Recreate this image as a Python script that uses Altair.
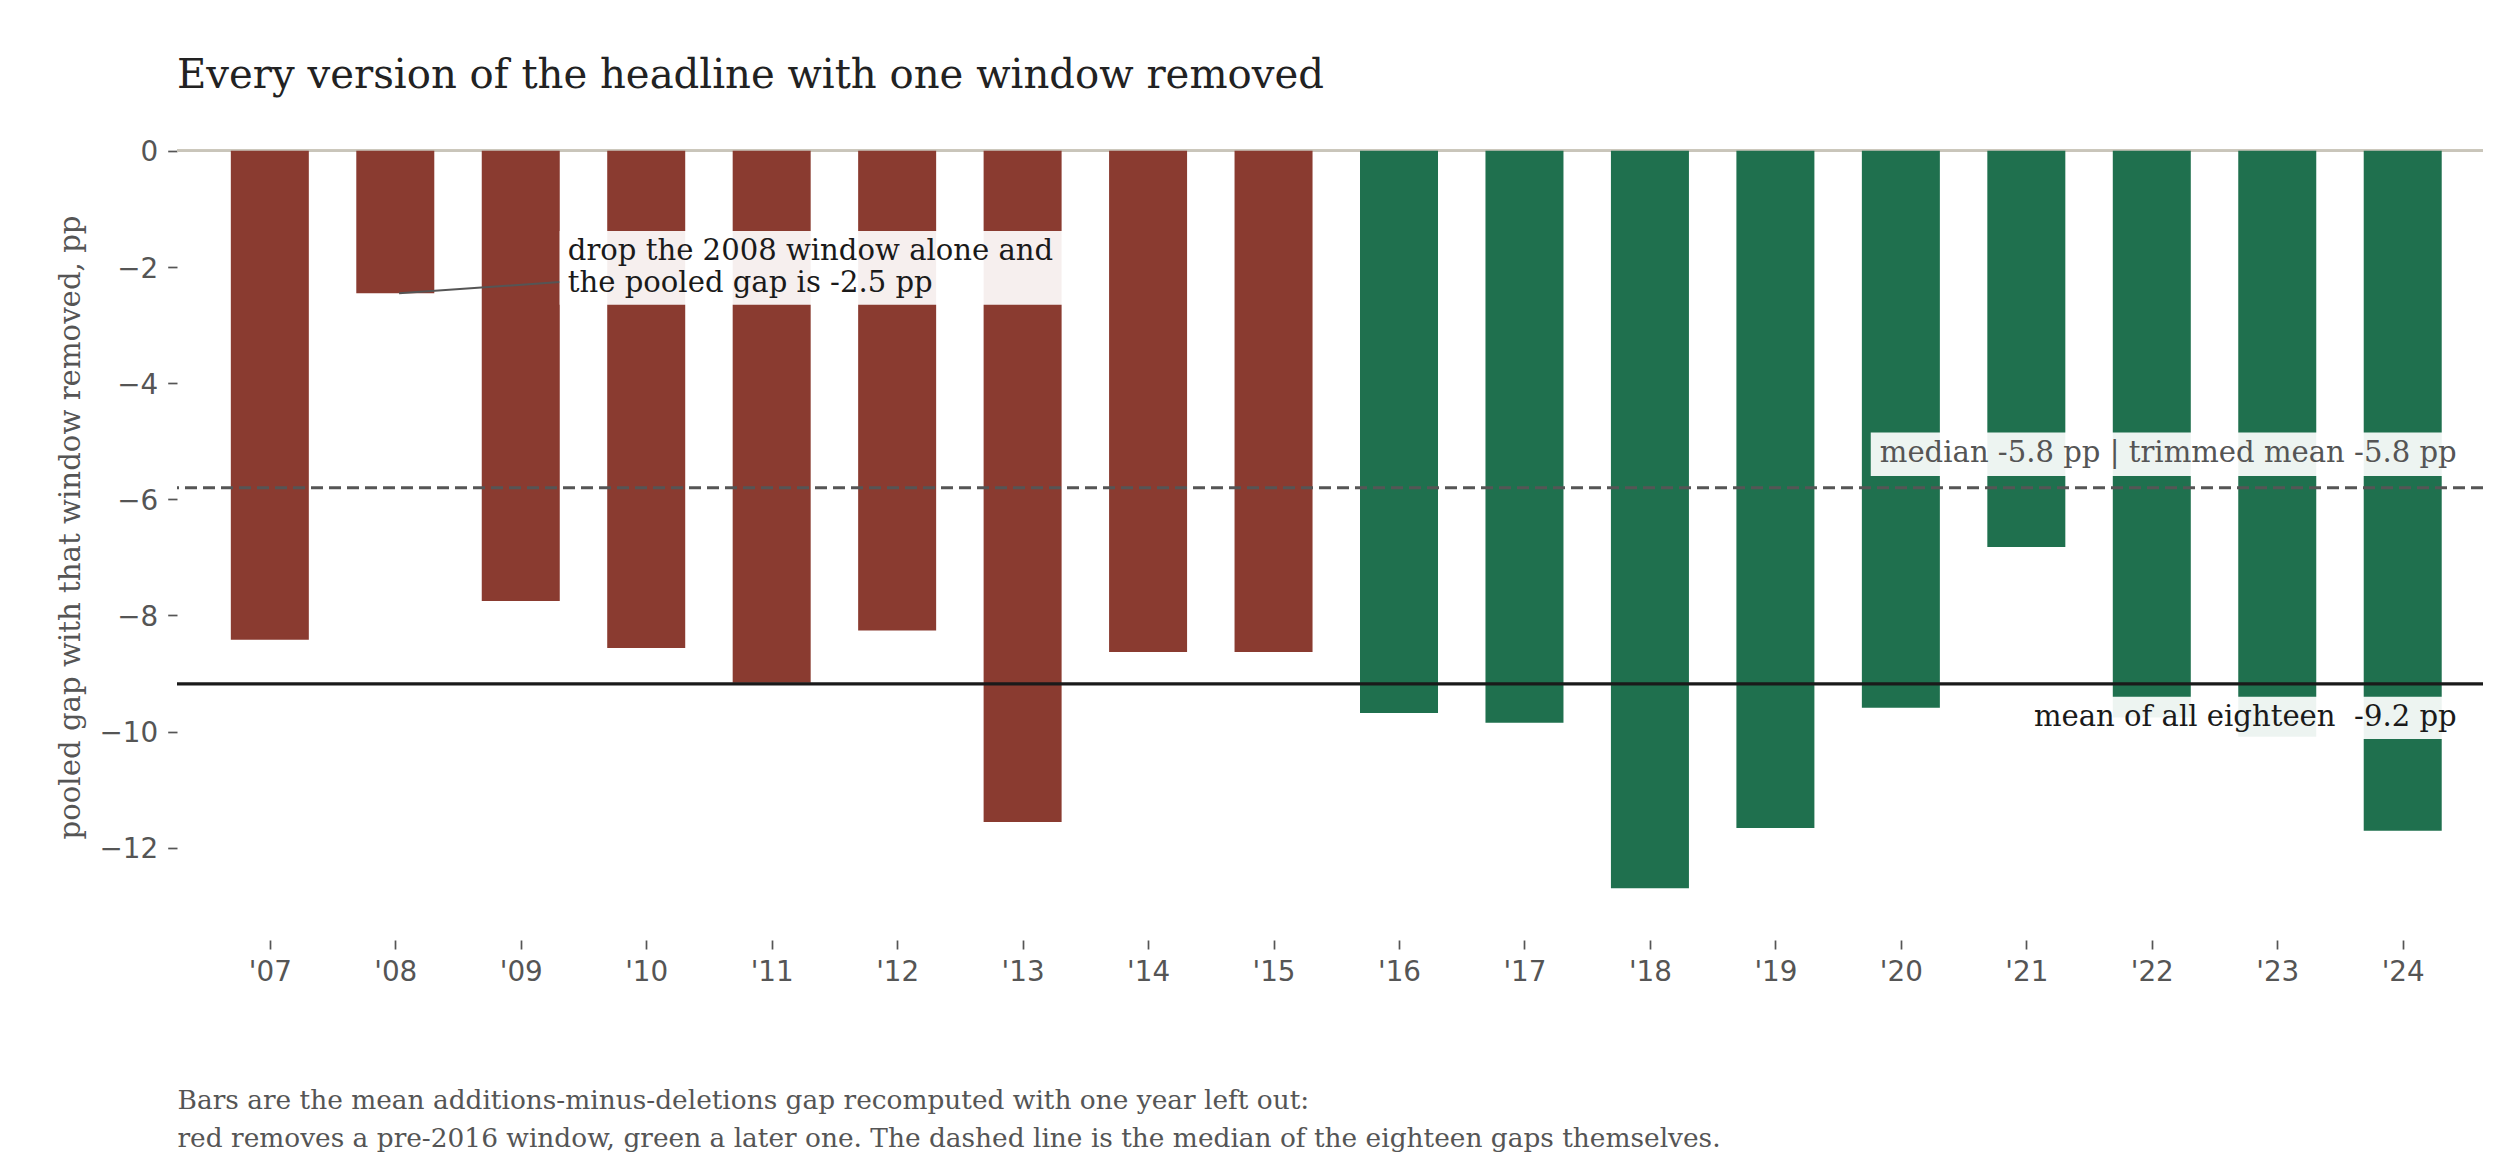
import json
import altair as alt
import pandas as pd

# ---- data -------------------------------------------------------------
years = ["'07", "'08", "'09", "'10", "'11", "'12", "'13", "'14", "'15",
         "'16", "'17", "'18", "'19", "'20", "'21", "'22", "'23", "'24"]
loo_gap = [-8.42, -2.45, -7.75, -8.56, -9.16, -8.26, -11.56, -8.63, -8.63,
           -9.68, -9.85, -12.70, -11.66, -9.59, -6.82, -9.76, -10.09, -11.71]
period = ["pre", "pre", "pre", "pre", "pre", "pre", "pre", "pre", "pre",
          "post", "post", "post", "post", "post", "post", "post", "post", "post"]
median_gap = -5.8
mean_gap = -9.18

title_text = "Every version of the headline with one window removed"
y_title = "pooled gap with that window removed, pp"
caption = ["Bars are the mean additions-minus-deletions gap recomputed with one year left out:",
           "red removes a pre-2016 window, green a later one. The dashed line is the median of the eighteen gaps themselves."]
note_text = "drop the 2008 window alone and\nthe pooled gap is -2.5 pp"
median_text = "median -5.8 pp | trimmed mean -5.8 pp"
mean_text = "mean of all eighteen \u00a0-9.2 pp"

RED, GREEN = "#8a3b30", "#1f704e"
SERIF, SANS = "DejaVu Serif", "DejaVu Sans"
NOTE_SIZE = 29.1

bars = pd.DataFrame({"idx": list(range(len(years))), "year": years,
                     "gap": loo_gap, "period": period})

# annotation placements (in data units)
boxes = pd.DataFrame({
    "x": [2.31, 12.76, 13.98], "x2": [6.35, 17.44, 17.44],
    "y": [-1.38, -4.85, -9.40], "y2": [-2.65, -5.60, -10.13]})
arrow = pd.DataFrame({"x": [1.03], "y": [loo_gap[1]], "x2": [2.31], "y2": [-2.26]})
note = pd.DataFrame({"x": [2.375], "y": [-1.88], "t": [note_text]})
med_lab = pd.DataFrame({"x": [17.43], "y": [-5.35], "t": [median_text]})
mean_lab = pd.DataFrame({"x": [17.43], "y": [-9.90], "t": [mean_text]})

xscale = alt.Scale(domain=[-0.7, 17.6], nice=False, zero=False)
yscale = alt.Scale(domain=[-13.59, 0.635], nice=False, zero=False)

x_axis = alt.Axis(values=list(range(len(years))),
                  labelExpr=json.dumps(years) + "[datum.value]",
                  domain=False, grid=False, tickSize=9, tickWidth=1.7, tickColor="#555",
                  labelColor="#555", labelFont=SANS, labelFontSize=27.8, labelPadding=9,
                  title=caption, titleFont=SERIF, titleFontSize=26.4, titleFontWeight="normal",
                  titleColor="#555", titleAnchor="start", titleAlign="left",
                  titleX=0, titleY=168, titleBaseline="alphabetic", titleLineHeight=38.4)
y_axis = alt.Axis(values=[0, -2, -4, -6, -8, -10, -12], format="d",
                  domain=False, grid=False, tickSize=9.3, tickWidth=1.7, tickColor="#555",
                  labelColor="#555", labelFont=SANS, labelFontSize=27.8, labelPadding=10,
                  labelOffset=2,
                  title=y_title, titleFont=SERIF, titleFontSize=29.2, titleFontWeight="normal",
                  titleColor="#555", titleAngle=270, titleBaseline="middle",
                  titleX=-107, titleY=413, titleAlign="center")

base = alt.Chart(bars)

zero_line = base.mark_rule(color="#c9c5ba", strokeWidth=2.2).encode(y=alt.datum(0, scale=yscale))

bar_layer = base.mark_bar(size=78).encode(
    x=alt.X("idx:Q", scale=xscale, axis=x_axis),
    y=alt.Y("gap:Q", scale=yscale, axis=y_axis),
    y2=alt.datum(0),
    color=alt.Color("period:N", scale=alt.Scale(domain=["pre", "post"], range=[RED, GREEN]),
                    legend=None),
)

median_line = alt.Chart(pd.DataFrame({"v": [median_gap]})).mark_rule(
    color="#555", strokeWidth=3, strokeDash=[12, 6]).encode(y=alt.Y("v:Q", scale=yscale))
mean_line = alt.Chart(pd.DataFrame({"v": [mean_gap]})).mark_rule(
    color="#1a1a1a", strokeWidth=3.3).encode(y=alt.Y("v:Q", scale=yscale))

box_layer = alt.Chart(boxes).mark_rect(color="white", opacity=0.92).encode(
    x=alt.X("x:Q", scale=xscale), x2="x2:Q",
    y=alt.Y("y:Q", scale=yscale), y2="y2:Q")

arrow_layer = alt.Chart(arrow).mark_rule(color="#555", strokeWidth=2).encode(
    x=alt.X("x:Q", scale=xscale), x2="x2:Q",
    y=alt.Y("y:Q", scale=yscale), y2="y2:Q")

note_layer = alt.Chart(note).mark_text(
    font=SERIF, fontSize=NOTE_SIZE, color="#1a1a1a", align="left", baseline="alphabetic",
    lineBreak="\n", lineHeight=31.7).encode(
    x=alt.X("x:Q", scale=xscale), y=alt.Y("y:Q", scale=yscale), text="t:N")

med_layer = alt.Chart(med_lab).mark_text(
    font=SERIF, fontSize=NOTE_SIZE, color="#555", align="right", baseline="alphabetic").encode(
    x=alt.X("x:Q", scale=xscale), y=alt.Y("y:Q", scale=yscale), text="t:N")

mean_layer = alt.Chart(mean_lab).mark_text(
    font=SERIF, fontSize=NOTE_SIZE, color="#1a1a1a", align="right", baseline="alphabetic").encode(
    x=alt.X("x:Q", scale=xscale), y=alt.Y("y:Q", scale=yscale), text="t:N")

chart = alt.layer(
    zero_line, bar_layer, median_line, mean_line, arrow_layer, box_layer,
    note_layer, med_layer, mean_layer
).properties(
    width=2306, height=826,
    autosize="none",
    padding={"left": 169, "top": 106, "right": 10, "bottom": 214},
    title=alt.TitleParams(title_text, anchor="start", frame="group", font=SERIF,
                          fontSize=40.2, fontWeight="normal", color="#222",
                          baseline="alphabetic", offset=26, dy=40),
    background="white",
).configure_view(stroke=None)

chart.save("out.html", embed_options={"renderer": "svg", "actions": False})
